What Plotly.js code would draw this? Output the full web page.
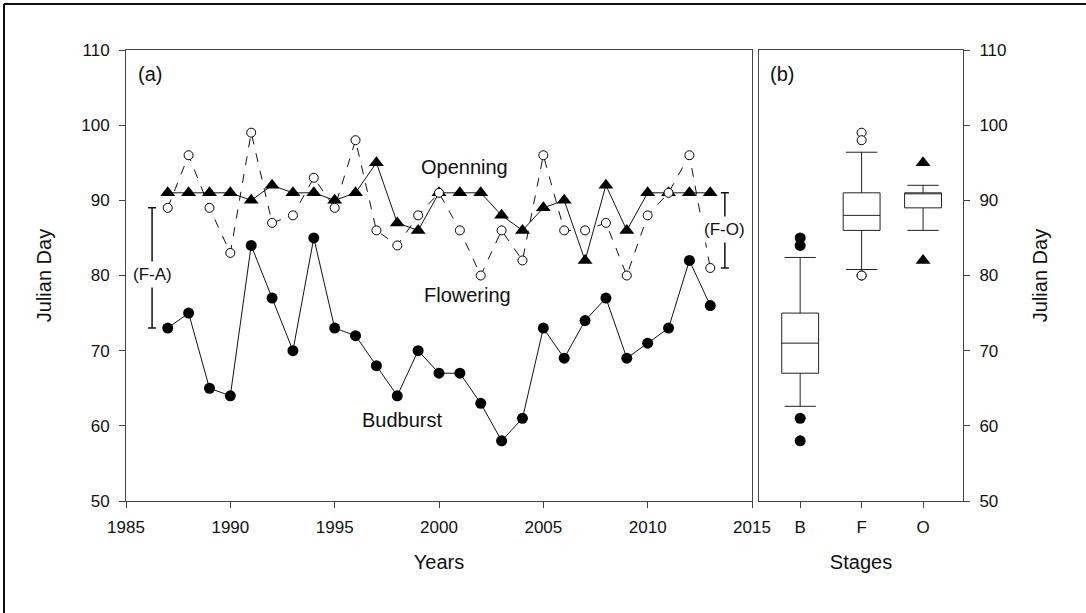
<!DOCTYPE html>
<html>
<head>
<meta charset="utf-8">
<script src="https://cdn.plot.ly/plotly-3.0.1.min.js"></script>
<style>
  html, body { margin: 0; padding: 0; background: #fff; }
  #chart { width: 1086px; height: 613px; }
</style>
</head>
<body>
<div id="chart"></div>
<script>
// ---- data ----
const years = [1987, 1988, 1989, 1990, 1991, 1992, 1993, 1994, 1995, 1996, 1997, 1998, 1999, 2000,
               2001, 2002, 2003, 2004, 2005, 2006, 2007, 2008, 2009, 2010, 2011, 2012, 2013];
const budburst  = [73, 75, 65, 64, 84, 77, 70, 85, 73, 72, 68, 64, 70, 67,
                   67, 63, 58, 61, 73, 69, 74, 77, 69, 71, 73, 82, 76];
const flowering = [89, 96, 89, 83, 99, 87, 88, 93, 89, 98, 86, 84, 88, 91,
                   86, 80, 86, 82, 96, 86, 86, 87, 80, 88, 91, 96, 81];
const opening   = [91, 91, 91, 91, 90, 92, 91, 91, 90, 91, 95, 87, 86, 91,
                   91, 91, 88, 86, 89, 90, 82, 92, 86, 91, 91, 91, 91];
const stages = ['B', 'F', 'O'];
const seriesNames = ['Budburst', 'Flowering', 'Openning'];
const xTicks = [1985, 1990, 1995, 2000, 2005, 2010, 2015];
const yTicks = [50, 60, 70, 80, 90, 100, 110];

// ---- box statistics (10th/25th/50th/75th/90th percentiles) ----
function pct(arr, p) {
  const s = arr.slice().sort((a, b) => a - b);
  const n = s.length;
  let r = (n + 1) * p;
  if (r < 1) r = 1;
  if (r > n) r = n;
  const lo = Math.floor(r), hi = Math.ceil(r);
  return s[lo - 1] + (r - lo) * (s[hi - 1] - s[lo - 1]);
}
const groups = [budburst, flowering, opening];
const q1 = groups.map(g => pct(g, 0.25));
const med = groups.map(g => pct(g, 0.5));
const q3 = groups.map(g => pct(g, 0.75));
const lf = groups.map(g => pct(g, 0.10));
const uf = groups.map(g => pct(g, 0.90));
const outX = groups.map(() => []), outY = groups.map(() => []);
groups.forEach((g, i) => g.forEach(v => {
  if (v < lf[i] || v > uf[i]) { outX[i].push(stages[i]); outY[i].push(v); }
}));

const ink = '#111';
const axisCol = '#444';
const FONT = 'Liberation Sans, Arial, sans-serif';

const traces = [
  { x: years, y: budburst, type: 'scatter', mode: 'lines+markers', name: seriesNames[0],
    line: { color: ink, width: 1 }, marker: { symbol: 'circle', size: 11, color: '#000' },
    xaxis: 'x', yaxis: 'y' },
  { x: years, y: opening, type: 'scatter', mode: 'lines+markers', name: seriesNames[2],
    line: { color: ink, width: 1 }, marker: { symbol: 'triangle-up', size: 13, color: '#000' },
    xaxis: 'x', yaxis: 'y' },
  { x: years, y: flowering, type: 'scatter', mode: 'lines+markers', name: seriesNames[1],
    line: { color: ink, width: 1, dash: 'dash' },
    marker: { symbol: 'circle', size: 9, color: '#fff', line: { color: '#000', width: 1 } },
    xaxis: 'x', yaxis: 'y' },
  // (F-A) span: flowering vs budburst of first year
  { x: [years[0] - 0.75], y: [(budburst[0] + flowering[0]) / 2], type: 'scatter', mode: 'markers',
    marker: { size: 1, color: 'rgba(0,0,0,0)' },
    error_y: { type: 'data', symmetric: true, array: [(flowering[0] - budburst[0]) / 2],
               color: ink, thickness: 1.5, width: 4 },
    xaxis: 'x', yaxis: 'y', hoverinfo: 'skip' },
  // (F-O) span: opening vs flowering of last year
  { x: [years[years.length - 1] + 0.7],
    y: [(opening[opening.length - 1] + flowering[flowering.length - 1]) / 2], type: 'scatter', mode: 'markers',
    marker: { size: 1, color: 'rgba(0,0,0,0)' },
    error_y: { type: 'data', symmetric: true,
               array: [(opening[opening.length - 1] - flowering[flowering.length - 1]) / 2],
               color: ink, thickness: 1.5, width: 4 },
    xaxis: 'x', yaxis: 'y', hoverinfo: 'skip' },
  // box plots
  { type: 'box', x: stages, q1: q1, median: med, q3: q3, lowerfence: lf, upperfence: uf,
    boxpoints: false, width: 0.6, whiskerwidth: 0.85,
    fillcolor: '#fff', line: { color: '#222', width: 1 },
    xaxis: 'x2', yaxis: 'y2' },
  { x: outX[0], y: outY[0], type: 'scatter', mode: 'markers',
    marker: { symbol: 'circle', size: 11, color: '#000' }, xaxis: 'x2', yaxis: 'y2' },
  { x: outX[1], y: outY[1], type: 'scatter', mode: 'markers',
    marker: { symbol: 'circle', size: 9, color: '#fff', line: { color: '#000', width: 1 } },
    xaxis: 'x2', yaxis: 'y2' },
  { x: outX[2], y: outY[2], type: 'scatter', mode: 'markers',
    marker: { symbol: 'triangle-up', size: 13, color: '#000' }, xaxis: 'x2', yaxis: 'y2' }
];

const tickFont = { family: FONT, size: 17, color: '#111' };
const titleFont = { family: FONT, size: 20, color: '#111' };

const layout = {
  width: 1086, height: 613,
  margin: { l: 126, r: 123, t: 50, b: 112, pad: 0 },
  paper_bgcolor: '#fff', plot_bgcolor: '#fff',
  showlegend: false,
  font: { family: FONT, color: '#111' },
  xaxis: {
    domain: [0, 626 / 837], range: [1985, 2015], tickvals: xTicks,
    showgrid: false, zeroline: false, showline: true, mirror: true,
    linecolor: axisCol, linewidth: 1, ticks: 'outside', ticklen: 6, tickcolor: axisCol,
    tickfont: tickFont, ticklabelstandoff: 5,
    title: { text: 'Years', font: titleFont, standoff: 18 }, anchor: 'y'
  },
  yaxis: {
    range: [50, 110], tickvals: yTicks,
    showgrid: false, zeroline: false, showline: true, mirror: true,
    linecolor: axisCol, linewidth: 1, ticks: 'outside', ticklen: 6, tickcolor: axisCol,
    tickfont: tickFont, ticklabelstandoff: 6,
    title: { text: 'Julian Day', font: titleFont, standoff: 24 }, anchor: 'x'
  },
  xaxis2: {
    domain: [633 / 837, 1], type: 'category', categoryarray: stages, range: [-0.67, 2.65],
    showgrid: false, zeroline: false, showline: true, mirror: true,
    linecolor: axisCol, linewidth: 1, ticks: 'outside', ticklen: 6, tickcolor: axisCol,
    tickfont: tickFont, ticklabelstandoff: 5,
    title: { text: 'Stages', font: titleFont, standoff: 18 }, anchor: 'y2'
  },
  yaxis2: {
    range: [50, 110], tickvals: yTicks, side: 'right',
    showgrid: false, zeroline: false, showline: true, mirror: true,
    linecolor: axisCol, linewidth: 1, ticks: 'outside', ticklen: 6, tickcolor: axisCol,
    tickfont: tickFont, ticklabelstandoff: 6,
    title: { text: 'Julian Day', font: titleFont, standoff: 26 }, anchor: 'x2'
  },
  annotations: [
    { xref: 'x', yref: 'y', x: 1986.15, y: 106.8, text: '(a)', showarrow: false, font: titleFont },
    { xref: 'x2', yref: 'y2', x: -0.3, y: 106.8, text: '(b)', showarrow: false, font: titleFont },
    { xref: 'x', yref: 'y', x: 2001.22, y: 94.4, text: seriesNames[2], showarrow: false, font: titleFont },
    { xref: 'x', yref: 'y', x: 2001.37, y: 77.4, text: seriesNames[1], showarrow: false, font: titleFont },
    { xref: 'x', yref: 'y', x: 1998.25, y: 60.8, text: seriesNames[0], showarrow: false, font: titleFont },
    { xref: 'x', yref: 'y', x: years[0] - 0.75, y: 80.2, text: '(F-A)', showarrow: false,
      font: { family: FONT, size: 17, color: '#111' }, bgcolor: '#fff', borderpad: 3 },
    { xref: 'x', yref: 'y', x: years[years.length - 1] + 0.7, y: 86.1, text: '(F-O)', showarrow: false,
      font: { family: FONT, size: 17, color: '#111' }, bgcolor: '#fff', borderpad: 3 }
  ],
  shapes: [
    { type: 'line', xref: 'paper', yref: 'paper',
      x0: (4 - 126) / 837, x1: (1086 - 126) / 837, y0: (501 - 4) / 451, y1: (501 - 4) / 451,
      line: { color: '#111', width: 2 } },
    { type: 'line', xref: 'paper', yref: 'paper',
      x0: (4 - 126) / 837, x1: (4 - 126) / 837, y0: (501 - 4) / 451, y1: (501 - 613) / 451,
      line: { color: '#111', width: 2 } }
  ]
};

Plotly.newPlot('chart', traces, layout, { displayModeBar: false, staticPlot: true });
</script>
</body>
</html>
